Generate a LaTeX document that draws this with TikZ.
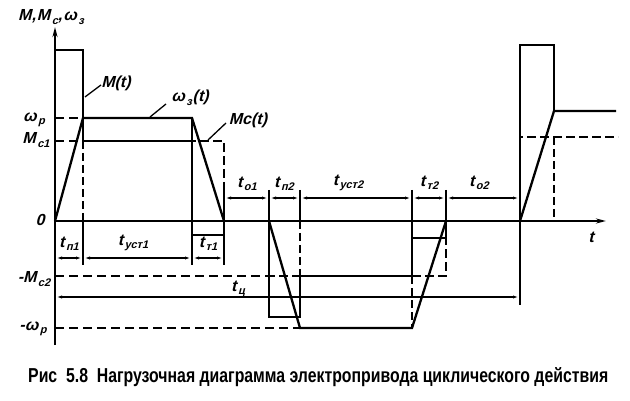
\documentclass[tikz,border=0pt]{standalone}
\usepackage{fontspec}
\setmainfont{Liberation Sans}
\newfontfamily\slfont[FakeSlant=0.25]{Liberation Sans}
\usetikzlibrary{arrows.meta}
\newcommand{\lb}[2]{#1\kern1.5pt\raisebox{-3.5pt}{\fontsize{11}{11}\selectfont #2}}
\tikzset{
  thickline/.style={line width=2.5pt, line join=miter},
  omline/.style={line width=2.3pt, line join=miter},
  levdash/.style={line width=1.9pt, dash pattern=on 9pt off 5pt},
  mcdash/.style={line width=2.8pt, dash pattern=on 9pt off 4pt},
  extline/.style={line width=1.3pt},
  extdash/.style={line width=1.3pt, dash pattern=on 8pt off 4pt},
  dimline/.style={line width=1.3pt, {Latex[length=7pt,width=3pt]}-{Latex[length=7pt,width=3pt]}},
  axisline/.style={line width=2pt, -{Stealth[length=10pt,width=5pt]}},
  lbl/.style={font=\fontsize{16}{16}\selectfont\slfont\bfseries, inner sep=0pt},
  leader/.style={line width=1.3pt}
}
\begin{document}
\begin{tikzpicture}[x=1pt,y=-1pt]
\useasboundingbox (0,0) rectangle (630,401);
% axes
\coordinate (o) at (55,221);
\coordinate (ytop) at (55,27);
\coordinate (ybot) at (55,345);
\coordinate (xend) at (606,221);
\draw[axisline] (ybot) -- (ytop);
\draw[axisline] (o) -- (xend);
% level dashed lines
\draw[levdash] (55,118) -- (83,118);
\draw[levdash] (55,141) -- (83,141);
\draw[levdash] (55,276) -- (269,276);
\draw[levdash] (55,328) -- (300,328);
% extension lines
\draw[extdash] (83,141) -- (83,221);
\draw[extline] (83,221) -- (83,265);
\draw[extline] (192,118) -- (192,141);
\draw[extline] (192,235) -- (192,265);
\draw[extline] (224,190) -- (224,221);
\draw[extline] (224,235) -- (224,265);
\draw[extline] (269,190) -- (269,221);
\draw[extline] (300,190) -- (300,221);
\draw[extdash] (300,221) -- (300,276);
\draw[extline] (412,190) -- (412,238);
\draw[extdash] (412,276) -- (412,328);
\draw[extline] (446,190) -- (446,221);
\draw[extline] (520,190) -- (520,305);
\draw[extdash] (554,137) -- (554,221);
% M(t)
\draw[thickline] (55,221) -- (55,50) -- (83,50) -- (83,141) -- (192,141) -- (192,235) -- (224,235) -- (224,221);
\draw[thickline] (269,221) -- (269,317) -- (300,317) -- (300,276) -- (412,276) -- (412,238) -- (446,238) -- (446,221);
\draw[thickline] (520,221) -- (520,45) -- (554,45) -- (554,111);
% Mc(t)
\draw[mcdash] (83,141) -- (224,141) -- (224,221);
\draw[mcdash] (269,221) -- (269,276) -- (412,276);
\draw[mcdash] (412,276) -- (446,276) -- (446,238);
\draw[mcdash] (520,221) -- (520,137) -- (618,137);
% omega(t)
\draw[omline] (55,221) -- (83,118) -- (192,118) -- (224,221);
\draw[omline] (269,221) -- (300,328) -- (412,328) -- (446,221);
\draw[omline] (520,221) -- (554,111) -- (616,111);
% dimension lines
\draw[dimline] (55,258) -- (83,258);
\draw[dimline] (83,258) -- (192,258);
\draw[dimline] (192,258) -- (224,258);
\draw[dimline] (224,198) -- (269,198);
\draw[dimline] (269,198) -- (300,198);
\draw[dimline] (300,198) -- (412,198);
\draw[dimline] (412,198) -- (446,198);
\draw[dimline] (446,198) -- (520,198);
\draw[dimline] (55,297) -- (520,297);
% leaders
\draw[leader] (85,97) -- (101,85);
\draw[leader] (150,117) -- (166,104);
\draw[leader] (208,140) -- (226,123);
% labels
\node[lbl] (ax) at (51,17) {M,\kern1pt\lb{M}{с},\kern1pt\lb{ω}{з}};
\node[lbl] (tl) at (591,237) {t};
\node[lbl] (lwp) at (34,120) {\lb{ω}{р}};
\node[lbl] (lmc1) at (36,140) {\lb{M}{с1}};
\node[lbl] (lzero) at (40,220) {0};
\node[lbl] (lmc2) at (34,279) {-\lb{M}{с2}};
\node[lbl] (lmwp) at (33,329) {-\lb{ω}{р}};
\node[lbl] (lM) at (116,83) {M(t)};
\node[lbl] (lom) at (190,98) {\lb{ω}{з}\kern1pt(t)};
\node[lbl] (lMc) at (248,120) {Mс(t)};
\node[lbl] (tp1) at (69,244) {\lb{t}{п1}};
\node[lbl] (tu1) at (133,243) {\lb{t}{уст1}};
\node[lbl] (tt1) at (208,244) {\lb{t}{т1}};
\node[lbl] (to1) at (247,184) {\lb{t}{о1}};
\node[lbl] (tp2) at (284,184) {\lb{t}{п2}};
\node[lbl] (tu2) at (348,183) {\lb{t}{уст2}};
\node[lbl] (tt2) at (429,183) {\lb{t}{т2}};
\node[lbl] (to2) at (479,183) {\lb{t}{о2}};
\node[lbl] (tc) at (238,289) {\lb{t}{ц}};
\node[inner sep=0pt, anchor=south west] (cap) at (28,387) {\resizebox{580pt}{15pt}{\bfseries Рис\ \ 5.8\ \ Нагрузочная диаграмма электропривода циклического действия}};
\end{tikzpicture}
\end{document}
